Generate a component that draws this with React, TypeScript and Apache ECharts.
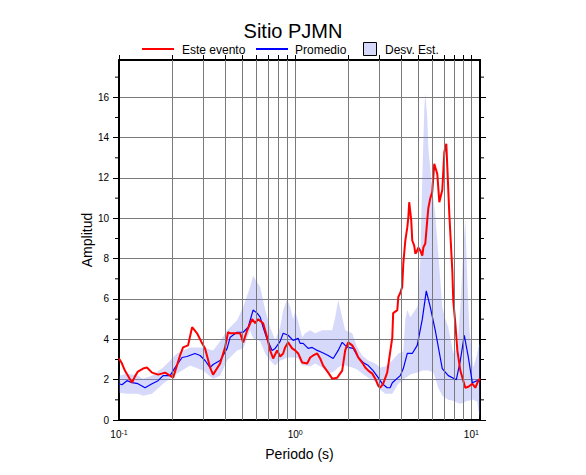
import React, { useEffect, useRef } from "react";
import * as echarts from "echarts";

// ---------- data ----------
const titleText = "Sitio PJMN";
const legendLabels = ["Este evento", "Promedio", "Desv. Est."];
const xAxisTitle = "Periodo (s)";
const yAxisTitle = "Amplitud";
const xMin = 0.1;
const xMax = 11.2;
const yMin = 0;
const yMax = 17.85;
const xLabelValues = [0.1, 1, 10];
const xMinorGrid = [0.2, 0.3, 0.4, 0.5, 0.6, 0.7, 0.8, 0.9, 2, 3, 4, 5, 6, 7, 8, 9];
const xTopTicks = [0.1, 0.2, 0.3, 0.4, 0.5, 0.6, 0.7, 0.8, 0.9, 1, 2, 3, 4, 5, 6, 7, 8, 9, 10];
const yMajorTicks = [0, 2, 4, 6, 8, 10, 12, 14, 16];
const yMinorTicks = [1, 3, 5, 7, 9, 11, 13, 15, 17];

// Este evento (red)
const eventoPeriod = [
  0.1, 0.104, 0.108, 0.1186, 0.123, 0.128, 0.137, 0.144, 0.154, 0.1667, 0.1826, 0.195, 0.203,
  0.222, 0.231, 0.2466, 0.26, 0.2775, 0.2963, 0.308, 0.329, 0.342, 0.375, 0.4, 0.416, 0.4275,
  0.468, 0.487, 0.507, 0.534, 0.57, 0.593, 0.616, 0.658, 0.693, 0.721, 0.75, 0.79, 0.822, 0.855,
  0.877, 0.912, 0.961, 1.0, 1.04, 1.096, 1.17, 1.217, 1.265, 1.334, 1.387, 1.442, 1.54, 1.623,
  1.733, 1.849, 1.923, 2.0, 2.108, 2.193, 2.28, 2.4, 2.5, 2.6, 2.74, 2.85, 2.96, 3.04, 3.16,
  3.33, 3.42, 3.56, 3.6, 3.8, 3.85, 3.95, 4.05, 4.11, 4.22, 4.33, 4.39, 4.44, 4.56, 4.62, 4.74,
  4.81, 4.87, 5.0, 5.13, 5.27, 5.34, 5.48, 5.62, 5.7, 5.85, 6.0, 6.16, 6.41, 6.58, 6.84, 7.03,
  7.21, 7.31, 7.5, 7.8, 7.9, 8.11, 8.33, 8.66, 9.24, 9.62, 10.13, 10.53, 10.96, 11.2,
];
const eventoAmp = [
  3.05, 2.8, 2.45, 1.85, 2.15, 2.4, 2.55, 2.6, 2.35, 2.25, 2.35, 2.2, 2.1,
  3.2, 3.6, 3.7, 4.6, 4.3, 3.8, 3.55, 2.6, 2.25, 2.8, 3.6, 4.35, 4.3,
  4.3, 4.3, 3.85, 4.45, 5.0, 4.8, 5.0, 4.8, 4.1, 3.45, 3.05, 3.45, 3.15, 3.3,
  3.6, 3.85, 3.55, 3.45, 3.3, 2.85, 2.8, 3.1, 3.2, 3.3, 3.05, 2.7, 2.35, 2.05,
  2.1, 2.45, 3.45, 3.85, 3.7, 3.45, 3.1, 2.85, 2.6, 2.45, 2.3, 2.05, 1.7, 1.6, 1.8,
  2.35, 3.05, 4.1, 5.3, 5.45, 6.1, 6.3, 6.6, 7.75, 8.9, 9.55, 10.05, 10.8, 9.9, 8.9, 8.65,
  8.25, 8.3, 8.55, 8.4, 8.15, 8.55, 8.75, 9.9, 10.5, 11.0, 11.3, 12.7, 12.2, 10.8, 11.4, 13.3,
  13.7, 12.5, 10.2, 7.4, 5.9, 4.8, 3.45, 2.45, 1.6, 1.65, 1.8, 1.6, 1.95, 2.05,
];

// Promedio (blue)
const promedioPeriod = [
  0.1, 0.104, 0.111, 0.1186, 0.128, 0.1406, 0.154, 0.1667, 0.178, 0.195, 0.208, 0.228, 0.243,
  0.27, 0.2886, 0.308, 0.329, 0.342, 0.375, 0.411, 0.4275, 0.468, 0.507, 0.541, 0.577, 0.608,
  0.633, 0.658, 0.693, 0.74, 0.77, 0.822, 0.855, 0.912, 0.974, 1.04, 1.067, 1.11, 1.185, 1.249,
  1.334, 1.423, 1.54, 1.644, 1.755, 1.849, 1.923, 2.0, 2.136, 2.28, 2.43, 2.6, 2.77, 2.96, 3.12,
  3.33, 3.46, 3.56, 3.95, 4.11, 4.33, 4.62, 4.93, 5.27, 5.55, 5.85, 6.24, 6.84, 7.4, 8.22, 8.66,
  9.12, 9.62, 10.13, 10.81, 11.2,
];
const promedioAmp = [
  1.8, 1.75, 1.95, 1.85, 1.8, 1.6, 1.8, 1.95, 2.2, 2.2, 2.6, 3.1, 3.15,
  3.3, 3.2, 2.95, 2.6, 2.75, 2.95, 3.55, 4.1, 4.35, 4.35, 4.6, 5.45, 5.3,
  5.1, 4.6, 4.0, 3.45, 3.55, 3.9, 4.3, 4.2, 3.95, 4.05, 3.8, 3.8, 3.55, 3.6,
  3.45, 3.35, 3.2, 3.05, 3.45, 3.85, 3.7, 3.6, 3.55, 3.1, 2.85, 2.7, 2.45, 2.1, 1.8,
  1.6, 1.6, 1.85, 2.2, 2.55, 3.3, 3.3, 3.7, 5.0, 6.4, 5.6, 4.45, 2.55, 2.2, 2.0, 2.95,
  4.2, 3.1, 1.85, 1.95, 2.05,
];

// Desv. Est. band
const bandPeriod = [
  0.1, 0.111, 0.128, 0.137, 0.154, 0.178, 0.2135, 0.253, 0.3, 0.342, 0.375, 0.411, 0.468, 0.507,
  0.555, 0.577, 0.633, 0.676, 0.721, 0.77, 0.822, 0.855, 0.901, 0.937, 0.974, 1.0, 1.04, 1.096,
  1.14, 1.217, 1.299, 1.423, 1.54, 1.623, 1.688, 1.755, 1.849, 1.923, 2.108, 2.25, 2.4, 2.6,
  2.85, 3.04, 3.25, 3.56, 3.85, 4.11, 4.22, 4.33, 4.5, 4.93, 5.0, 5.13, 5.27, 5.41, 5.48, 5.62,
  5.7, 5.93, 6.08, 6.24, 6.49, 6.67, 6.84, 7.12, 7.4, 7.9, 8.33, 8.66, 9.01, 9.24, 9.49, 9.75,
  10.0, 10.26, 10.81, 10.96, 11.2,
];
const bandLow = [
  1.35, 1.3, 1.3, 1.2, 1.3, 1.8, 2.3, 2.7, 2.45, 2.05, 2.2, 2.95, 3.45, 3.55,
  4.45, 4.05, 3.9, 3.3, 2.95, 2.7, 2.95, 3.0, 3.1, 3.1, 3.1, 3.1, 3.05, 2.7,
  2.7, 2.65, 2.8, 2.6, 2.35, 2.35, 2.45, 2.6, 2.7, 2.7, 2.6, 2.5, 2.3, 2.1,
  1.9, 1.5, 1.3, 1.3, 1.8, 2.0, 2.1, 2.15, 2.25, 2.35, 2.35, 2.4, 2.45, 2.45, 2.45, 2.45,
  2.45, 2.4, 2.35, 2.1, 1.6, 1.4, 1.2, 1.1, 1.0, 0.95, 0.85, 0.8, 0.85, 0.9, 0.95, 0.95,
  1.0, 1.0, 0.9, 0.5, 0.1,
];
const bandHigh = [
  2.2, 2.3, 2.2, 2.05, 2.2, 2.6, 3.3, 3.6, 3.6, 3.45, 3.9, 4.45, 4.95, 5.6,
  6.6, 7.15, 6.6, 5.45, 4.6, 3.95, 4.6, 5.45, 6.0, 5.6, 5.0, 5.4, 4.9, 4.1,
  4.3, 4.45, 4.3, 4.45, 4.45, 4.45, 5.1, 5.95, 5.1, 4.45, 4.3, 3.6, 3.2, 2.95,
  2.8, 2.6, 2.65, 2.95, 3.3, 3.4, 5.0, 5.45, 5.1, 5.6, 5.8, 8.0, 12.0, 15.5, 16.2, 15.0,
  13.5, 11.9, 11.0, 10.2, 8.25, 6.9, 5.6, 5.0, 4.6, 3.3, 3.6, 5.6, 8.5, 10.0, 6.9, 4.5,
  3.6, 2.6, 3.3, 3.6, 3.8,
];

// ---------- styles ----------
const FONT = "'Liberation Sans', Arial, Helvetica, sans-serif";
const RED = "#ff0000";
const BLUE = "#0000ff";
const BAND = "rgba(120,130,240,0.3)";
const GRID_GRAY = "#7a7a7a";

export default function App() {
  const ref = useRef<HTMLDivElement | null>(null);

  useEffect(() => {
    if (!ref.current) return;
    const chart = echarts.init(ref.current, null, { renderer: "svg" });

    const pairs = (xs: number[], ys: number[]) => xs.map((x, i) => [x, ys[i]]);
    const bandData = bandPeriod.map((t, i) => [t, bandLow[i], bandHigh[i]]);

    const logCommon = {
      type: "log" as const,
      logBase: 10,
      min: xMin,
      max: xMax,
    };
    const valCommon = {
      type: "value" as const,
      min: yMin,
      max: yMax,
      interval: 1,
    };

    chart.setOption({
      animation: false,
      textStyle: { fontFamily: FONT },
      title: {
        text: titleText,
        left: "center",
        top: 22,
        padding: 0,
        textStyle: { fontFamily: FONT, fontSize: 20, lineHeight: 18, fontWeight: "normal", color: "#000" },
      },
      grid: { left: 119, right: 106, top: 60, bottom: 55, containLabel: false },
      xAxis: [
        {
          ...logCommon,
          position: "bottom",
          name: xAxisTitle,
          nameLocation: "middle",
          nameGap: 27,
          nameMoveOverlap: false,
          nameTextStyle: { fontFamily: FONT, fontSize: 14, color: "#000" },
          axisLine: { show: true, onZero: false, lineStyle: { color: "#000", width: 2 } },
          axisTick: { show: false },
          axisLabel: {
            customValues: xLabelValues,
            margin: 9,
            color: "#000",
            fontSize: 10,
            fontFamily: FONT,
            formatter: (v: number) => {
              const e = Math.round(Math.log10(v));
              return "10{s|" + (e < 0 ? "-" + Math.abs(e) : String(e)) + "}";
            },
            rich: {
              s: { fontSize: 7, fontFamily: FONT, color: "#000", verticalAlign: "top", lineHeight: 8 },
            },
          },
          splitLine: { show: true, lineStyle: { color: GRID_GRAY, width: 1 } },
        },
        {
          ...logCommon,
          position: "top",
          axisLine: { show: true, onZero: false, lineStyle: { color: "#000", width: 2 } },
          axisTick: { show: true, customValues: xTopTicks, length: 5, inside: false, lineStyle: { color: "#000", width: 1 } },
          axisLabel: { show: false },
          splitLine: { show: false },
        },
      ],
      yAxis: [
        {
          ...valCommon,
          position: "left",
          name: yAxisTitle,
          nameLocation: "middle",
          nameGap: 25,
          nameMoveOverlap: false,
          nameRotate: 90,
          nameTextStyle: { fontFamily: FONT, fontSize: 14, color: "#000" },
          axisLine: { show: true, onZero: false, lineStyle: { color: "#000", width: 2 } },
          axisTick: { show: true, customValues: yMajorTicks, length: 6, lineStyle: { color: "#000", width: 1 } },
          axisLabel: {
            customValues: yMajorTicks,
            margin: 10,
            color: "#000",
            fontSize: 10,
            fontFamily: FONT,
          },
          splitLine: { show: true, lineStyle: { color: GRID_GRAY, width: 1 } },
        },
        {
          ...valCommon,
          position: "right",
          axisLine: { show: true, onZero: false, lineStyle: { color: "#000", width: 2 } },
          axisTick: { show: true, customValues: yMajorTicks, length: 6, lineStyle: { color: "#000", width: 1 } },
          axisLabel: { show: false },
          splitLine: { show: false },
        },
      ],
      series: [
        {
          name: legendLabels[2],
          type: "custom",
          data: bandData,
          encode: { x: 0, y: [1, 2] },
          silent: true,
          z: 1,
          renderItem: (params: any, api: any) => {
            if (params.dataIndex !== 0) return null;
            const upper = bandData.map((d) => api.coord([d[0], d[2]]));
            const lower = bandData.map((d) => api.coord([d[0], d[1]])).reverse();
            return {
              type: "polygon",
              shape: { points: upper.concat(lower) },
              style: { fill: BAND, stroke: "none" },
            };
          },
        },
        {
          name: "grid",
          type: "line",
          data: [],
          symbol: "none",
          silent: true,
          z: 2,
          markLine: {
            silent: true,
            symbol: ["none", "none"],
            label: { show: false },
            lineStyle: { color: GRID_GRAY, width: 1, type: "solid" },
            data: xMinorGrid.map((v) => ({ xAxis: v })),
          },
        },
        {
          name: legendLabels[1],
          type: "line",
          data: pairs(promedioPeriod, promedioAmp),
          symbol: "none",
          lineStyle: { color: BLUE, width: 1.2 },
          z: 3,
        },
        {
          name: legendLabels[0],
          type: "line",
          data: pairs(eventoPeriod, eventoAmp),
          symbol: "none",
          lineStyle: { color: RED, width: 2 },
          z: 4,
        },
      ],
    });

    // minor (odd) y ticks, placed through the axis scale
    const leftX = chart.convertToPixel({ xAxisIndex: 0 }, xMin) as number;
    const rightX = chart.convertToPixel({ xAxisIndex: 0 }, xMax) as number;
    const tickEls: any[] = [];
    yMinorTicks.forEach((v, i) => {
      const y = chart.convertToPixel({ yAxisIndex: 0 }, v) as number;
      tickEls.push({
        type: "line",
        id: "tl" + i,
        silent: true,
        shape: { x1: leftX - 4, y1: y, x2: leftX, y2: y },
        style: { stroke: "#000", lineWidth: 1 },
      });
      tickEls.push({
        type: "line",
        id: "tr" + i,
        silent: true,
        shape: { x1: rightX, y1: y, x2: rightX + 4, y2: y },
        style: { stroke: "#000", lineWidth: 1 },
      });
    });

    const legendY = 49.5;
    const legendText = (id: string, x: number, text: string) => ({
      type: "text",
      id,
      x,
      y: legendY,
      style: { text, fill: "#000", font: `12px ${FONT}`, lineHeight: 12, verticalAlign: "middle" },
    });
    const legendEls: any[] = [
      { type: "line", id: "lg1", shape: { x1: 142, y1: 49, x2: 174, y2: 49 }, style: { stroke: RED, lineWidth: 2 } },
      legendText("lt1", 182, legendLabels[0]),
      { type: "line", id: "lg2", shape: { x1: 256, y1: 49, x2: 288, y2: 49 }, style: { stroke: BLUE, lineWidth: 2 } },
      legendText("lt2", 295, legendLabels[1]),
      { type: "rect", id: "lg3", shape: { x: 363.5, y: 42.5, width: 13, height: 13 }, style: { fill: "#d6d9f9", stroke: "#000", lineWidth: 1 } },
      legendText("lt3", 385, legendLabels[2]),
    ];

    chart.setOption({ graphic: { elements: [...legendEls, ...tickEls] } });

    return () => {
      chart.dispose();
    };
  }, []);

  return (
    <div
      ref={ref}
      style={{ position: "fixed", left: 0, top: 0, width: 586, height: 475, background: "#fff" }}
    />
  );
}
